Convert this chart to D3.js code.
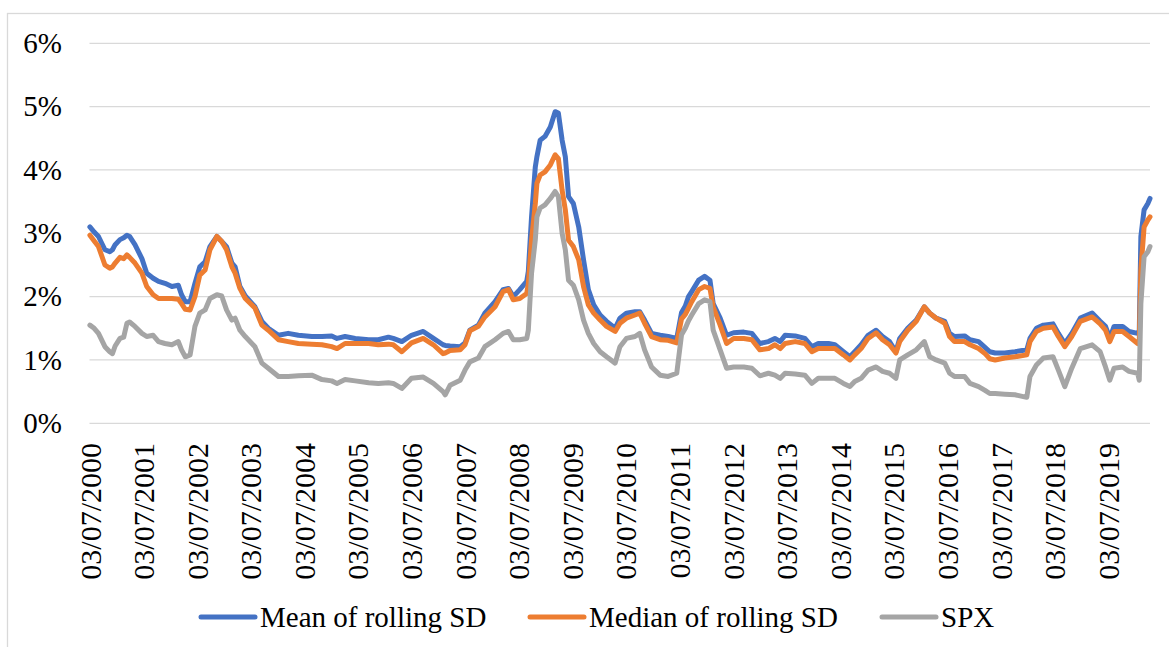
<!DOCTYPE html>
<html>
<head>
<meta charset="utf-8">
<script src="https://cdn.jsdelivr.net/npm/d3@7/dist/d3.min.js"></script>
<style>
  html, body { margin: 0; padding: 0; background: #fff; }
  svg { display: block; }
  svg text { fill: #000; }
</style>
</head>
<body>
<svg id="chart" width="1169" height="647"></svg>
<script>
// Observation times (decimal years) shared by all series
const yearPos = [
  2000.51, 2000.59, 2000.67, 2000.79, 2000.88, 2000.93, 2000.98, 2001.07, 2001.14, 2001.20,
  2001.25, 2001.35, 2001.48, 2001.57, 2001.69, 2001.79, 2001.91, 2002.04, 2002.16, 2002.22,
  2002.29, 2002.38, 2002.47, 2002.56, 2002.66, 2002.75, 2002.88, 2002.97, 2003.06, 2003.16,
  2003.22, 2003.31, 2003.41, 2003.59, 2003.72, 2003.84, 2004.03, 2004.21, 2004.40, 2004.65,
  2004.84, 2005.02, 2005.12, 2005.27, 2005.46, 2005.71, 2005.89, 2006.08, 2006.17, 2006.33,
  2006.51, 2006.73, 2006.92, 2007.10, 2007.14, 2007.23, 2007.42, 2007.51, 2007.60, 2007.76,
  2007.88, 2008.07, 2008.22, 2008.32, 2008.41, 2008.53, 2008.66, 2008.69, 2008.75, 2008.82,
  2008.85, 2008.91, 2009.00, 2009.10, 2009.19, 2009.25, 2009.32, 2009.38, 2009.44, 2009.53,
  2009.63, 2009.72, 2009.81, 2009.91, 2010.03, 2010.15, 2010.31, 2010.40, 2010.52, 2010.68,
  2010.77, 2010.86, 2010.99, 2011.15, 2011.30, 2011.46, 2011.55, 2011.62, 2011.68, 2011.74,
  2011.87, 2011.98, 2012.08, 2012.14, 2012.27, 2012.39, 2012.52, 2012.71, 2012.86, 2013.01,
  2013.17, 2013.29, 2013.39, 2013.48, 2013.67, 2013.85, 2013.98, 2014.10, 2014.29, 2014.41,
  2014.57, 2014.69, 2014.78, 2014.90, 2015.03, 2015.18, 2015.30, 2015.43, 2015.55, 2015.62,
  2015.77, 2015.93, 2016.08, 2016.18, 2016.30, 2016.46, 2016.55, 2016.64, 2016.83, 2016.93,
  2017.09, 2017.21, 2017.30, 2017.40, 2017.58, 2017.77, 2017.99, 2018.05, 2018.17, 2018.30,
  2018.48, 2018.58, 2018.70, 2018.83, 2018.99, 2019.21, 2019.36, 2019.46, 2019.54, 2019.62,
  2019.78, 2019.90, 2020.06, 2020.09, 2020.12, 2020.18, 2020.25, 2020.29
];

// Mean of rolling SD (%)
const meanSD = [
  3.10, 3.02, 2.95, 2.74, 2.71, 2.74, 2.82, 2.90, 2.93, 2.97,
  2.95, 2.82, 2.60, 2.37, 2.29, 2.24, 2.21, 2.16, 2.18, 2.03,
  1.92, 1.92, 2.21, 2.47, 2.55, 2.79, 2.95, 2.87, 2.79, 2.53,
  2.47, 2.16, 2.01, 1.84, 1.61, 1.50, 1.39, 1.42, 1.39, 1.37,
  1.37, 1.38, 1.34, 1.37, 1.34, 1.32, 1.32, 1.36, 1.34, 1.29,
  1.39, 1.45, 1.34, 1.24, 1.23, 1.22, 1.21, 1.27, 1.47, 1.55,
  1.74, 1.92, 2.11, 2.13, 2.00, 2.11, 2.24, 2.40, 3.26, 4.05,
  4.21, 4.47, 4.53, 4.68, 4.92, 4.90, 4.47, 4.21, 3.58, 3.47,
  3.10, 2.58, 2.11, 1.87, 1.71, 1.61, 1.50, 1.66, 1.74, 1.76,
  1.76, 1.63, 1.42, 1.39, 1.37, 1.34, 1.75, 1.85, 2.00, 2.08,
  2.26, 2.32, 2.26, 1.89, 1.66, 1.39, 1.43, 1.44, 1.42, 1.26,
  1.29, 1.34, 1.29, 1.39, 1.38, 1.34, 1.21, 1.26, 1.26, 1.24,
  1.13, 1.05, 1.13, 1.24, 1.39, 1.47, 1.37, 1.29, 1.13, 1.34,
  1.50, 1.63, 1.84, 1.74, 1.66, 1.61, 1.42, 1.37, 1.38, 1.32,
  1.29, 1.20, 1.13, 1.11, 1.11, 1.13, 1.16, 1.34, 1.50, 1.55,
  1.57, 1.42, 1.26, 1.42, 1.66, 1.74, 1.61, 1.53, 1.34, 1.53,
  1.53, 1.45, 1.42, 1.45, 2.95, 3.37, 3.47, 3.55
];

// Median of rolling SD (%)
const medianSD = [
  2.97, 2.88, 2.79, 2.50, 2.45, 2.47, 2.53, 2.62, 2.60, 2.66,
  2.62, 2.53, 2.37, 2.16, 2.03, 1.97, 1.97, 1.97, 1.96, 1.89,
  1.80, 1.79, 2.00, 2.34, 2.42, 2.74, 2.95, 2.87, 2.74, 2.47,
  2.37, 2.13, 1.97, 1.82, 1.55, 1.47, 1.32, 1.29, 1.26, 1.25,
  1.24, 1.21, 1.18, 1.26, 1.26, 1.26, 1.24, 1.25, 1.24, 1.13,
  1.27, 1.34, 1.24, 1.10, 1.11, 1.15, 1.16, 1.24, 1.46, 1.53,
  1.68, 1.84, 2.08, 2.11, 1.95, 1.97, 2.05, 2.20, 2.89, 3.47,
  3.79, 3.92, 3.97, 4.08, 4.24, 4.18, 3.68, 3.37, 2.89, 2.79,
  2.58, 2.16, 1.87, 1.74, 1.63, 1.53, 1.45, 1.58, 1.66, 1.71,
  1.74, 1.58, 1.37, 1.32, 1.31, 1.27, 1.65, 1.72, 1.82, 1.92,
  2.11, 2.16, 2.13, 1.84, 1.55, 1.26, 1.34, 1.34, 1.32, 1.16,
  1.18, 1.24, 1.18, 1.26, 1.29, 1.26, 1.13, 1.18, 1.18, 1.18,
  1.08, 1.00, 1.08, 1.18, 1.34, 1.43, 1.32, 1.24, 1.11, 1.29,
  1.47, 1.61, 1.84, 1.74, 1.66, 1.58, 1.37, 1.29, 1.29, 1.24,
  1.18, 1.10, 1.02, 1.00, 1.03, 1.05, 1.08, 1.29, 1.45, 1.50,
  1.52, 1.37, 1.21, 1.37, 1.61, 1.68, 1.57, 1.47, 1.29, 1.45,
  1.45, 1.37, 1.26, 1.30, 2.42, 3.10, 3.21, 3.26
];

// SPX rolling SD (%)
const spxSD = [
  1.55, 1.50, 1.42, 1.21, 1.13, 1.10, 1.22, 1.34, 1.36, 1.58,
  1.60, 1.53, 1.42, 1.37, 1.39, 1.29, 1.26, 1.24, 1.29, 1.16,
  1.05, 1.08, 1.53, 1.74, 1.79, 1.97, 2.03, 2.01, 1.79, 1.63,
  1.66, 1.47, 1.37, 1.21, 0.95, 0.87, 0.74, 0.74, 0.75, 0.76,
  0.69, 0.67, 0.63, 0.69, 0.67, 0.64, 0.63, 0.64, 0.63, 0.55,
  0.71, 0.73, 0.63, 0.50, 0.45, 0.60, 0.68, 0.84, 0.97, 1.03,
  1.21, 1.32, 1.42, 1.45, 1.32, 1.32, 1.34, 1.47, 2.37, 2.90,
  3.26, 3.40, 3.45, 3.55, 3.66, 3.58, 3.00, 2.74, 2.26, 2.18,
  1.95, 1.63, 1.42, 1.26, 1.13, 1.05, 0.95, 1.21, 1.34, 1.37,
  1.42, 1.16, 0.89, 0.76, 0.74, 0.79, 1.40, 1.50, 1.62, 1.71,
  1.89, 1.95, 1.92, 1.47, 1.16, 0.87, 0.89, 0.89, 0.87, 0.75,
  0.79, 0.76, 0.71, 0.79, 0.78, 0.76, 0.63, 0.71, 0.71, 0.71,
  0.63, 0.58, 0.66, 0.71, 0.84, 0.89, 0.82, 0.79, 0.71, 1.00,
  1.08, 1.16, 1.29, 1.05, 1.00, 0.95, 0.79, 0.74, 0.74, 0.63,
  0.58, 0.52, 0.47, 0.47, 0.46, 0.45, 0.41, 0.74, 0.92, 1.03,
  1.05, 0.84, 0.58, 0.87, 1.18, 1.24, 1.13, 0.89, 0.68, 0.87,
  0.89, 0.82, 0.79, 0.68, 1.89, 2.63, 2.71, 2.79
];

const seriesNames = ["Mean of rolling SD", "Median of rolling SD", "SPX"];
const seriesColors = ["#4472C4", "#ED7D31", "#A5A5A5"];
const yTicks = [0, 1, 2, 3, 4, 5, 6];
const tickYears = d3.range(2000, 2020);
const tickLabels = tickYears.map(y => `03/07/${y}`);

// decimal year -> UTC date
function toDate(t) {
  const y = Math.floor(t);
  const a = Date.UTC(y, 0, 1), b = Date.UTC(y + 1, 0, 1);
  return new Date(a + (t - y) * (b - a));
}

const SERIF = "Liberation Serif, serif";
const FS = 29;

const svg = d3.select("#chart");
const W = 1169, H = 647;
const plot = { left: 89.5, right: 1150, top: 43.3, bottom: 423.3 };

// outer chart frame
svg.append("rect")
  .attr("x", 7.5).attr("y", 13.5)
  .attr("width", W + 10).attr("height", H + 10)
  .attr("fill", "none").attr("stroke", "#d9d9d9").attr("stroke-width", 1.3);

const x = d3.scaleUtc()
  .domain([new Date(Date.UTC(2000, 6, 3)), toDate(2020.29)])
  .range([plot.left, plot.right]);
const y = d3.scaleLinear().domain([0, 6]).range([plot.bottom, plot.top]);

// horizontal gridlines
svg.append("g").selectAll("line").data(yTicks).join("line")
  .attr("x1", plot.left).attr("x2", plot.right)
  .attr("y1", d => y(d)).attr("y2", d => y(d))
  .attr("stroke", "#d9d9d9").attr("stroke-width", 1.3);

// y axis labels
const yAxis = d3.axisLeft(y).tickValues(yTicks).tickFormat(d => d + "%").tickSize(0).tickPadding(0);
const gy = svg.append("g").attr("transform", "translate(62,0)").call(yAxis)
  .attr("font-family", SERIF).attr("font-size", FS);
gy.select(".domain").remove();
gy.selectAll("text").attr("fill", "#000");

// x axis labels, rotated
const tickDates = tickYears.map(yr => new Date(Date.UTC(yr, 6, 3)));
const xAxis = d3.axisBottom(x).tickValues(tickDates)
  .tickFormat((d, i) => tickLabels[i]).tickSize(0).tickPadding(0);
const gx = svg.append("g").attr("transform", "translate(0,443)").call(xAxis)
  .attr("font-family", SERIF).attr("font-size", 30);
gx.select(".domain").remove();
gx.selectAll("text")
  .attr("fill", "#000")
  .attr("text-anchor", "end")
  .attr("y", 0).attr("x", 0)
  .attr("dy", "0.35em")
  .attr("transform", "rotate(-90)");

// series lines
const allSeries = [meanSD, medianSD, spxSD];
const line = d3.line()
  .x((d, i) => x(toDate(yearPos[i])))
  .y(d => y(d));

svg.append("g").selectAll("path").data(allSeries).join("path")
  .attr("d", d => line(d))
  .attr("fill", "none")
  .attr("stroke", (d, i) => seriesColors[i])
  .attr("stroke-width", 5)
  .attr("stroke-linejoin", "round")
  .attr("stroke-linecap", "round");

// legend
const legendX = [201, 530, 882];
const legY = 617;
const leg = svg.append("g").selectAll("g").data(seriesNames).join("g")
  .attr("transform", (d, i) => `translate(${legendX[i]},${legY})`);
leg.append("line")
  .attr("x1", 0).attr("x2", 54).attr("y1", 0).attr("y2", 0)
  .attr("stroke", (d, i) => seriesColors[i])
  .attr("stroke-width", 5).attr("stroke-linecap", "round");
leg.append("text")
  .attr("x", 59).attr("y", 0).attr("dy", "0.33em")
  .attr("font-family", SERIF).attr("font-size", FS)
  .text(d => d);
</script>
</body>
</html>
